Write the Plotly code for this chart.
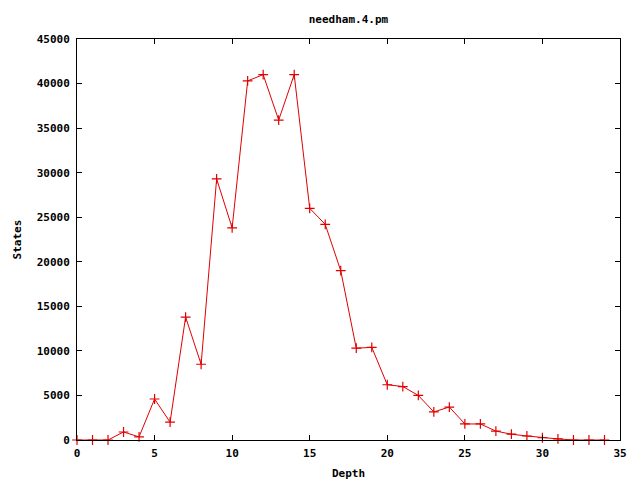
import plotly.graph_objects as go

depth = list(range(0, 35))
states = [0, 0, 0, 900, 350, 4600, 2000, 13800, 8500, 29300,
          23800, 40300, 41000, 35900, 41000, 26000, 24200, 19000, 10300, 10400,
          6200, 6000, 5000, 3150, 3700, 1800, 1800, 1000, 650, 450,
          250, 120, 0, 0, 0]
x_ticks = [0, 5, 10, 15, 20, 25, 30, 35]
y_ticks = [0, 5000, 10000, 15000, 20000, 25000, 30000, 35000, 40000, 45000]

font = dict(family="DejaVu Sans Mono", size=11, color="black")

fig = go.Figure()
fig.add_trace(go.Scatter(
    x=depth, y=states, mode="lines+markers",
    line=dict(color="#e00000", width=1),
    marker=dict(symbol="cross-thin", size=7, line=dict(color="#e00000", width=1.2)),
    cliponaxis=False, showlegend=False,
))

axis_common = dict(showgrid=False, zeroline=False, showline=True, linecolor="black",
                   linewidth=1, mirror="ticks", ticks="inside", ticklen=5,
                   tickcolor="black", tickfont=font, automargin=False)

fig.update_layout(
    width=640, height=480,
    margin=dict(l=77, r=20, t=39, b=40),
    paper_bgcolor="white", plot_bgcolor="white",
    font=font,
    title=dict(text="<b>needham.4.pm</b>", x=0.5, xref="paper", xanchor="center",
               y=1 - 19 / 480, yanchor="middle", font=font, automargin=False),
    xaxis=dict(range=[0, 35], tickvals=x_ticks,
               ticktext=[f"<b>{v}</b>" for v in x_ticks], ticklabelstandoff=3,
               title=dict(text="<b>Depth</b>", font=font, standoff=10), **axis_common),
    yaxis=dict(range=[0, 45000], tickvals=y_ticks,
               ticktext=[f"<b>{v}</b>" for v in y_ticks], ticklabelstandoff=4,
               title=dict(text="<b>States</b>", font=font, standoff=12), **axis_common),
)

fig.write_html("out.html", config={"displayModeBar": False},
               post_script="document.body.style.margin='0';")
